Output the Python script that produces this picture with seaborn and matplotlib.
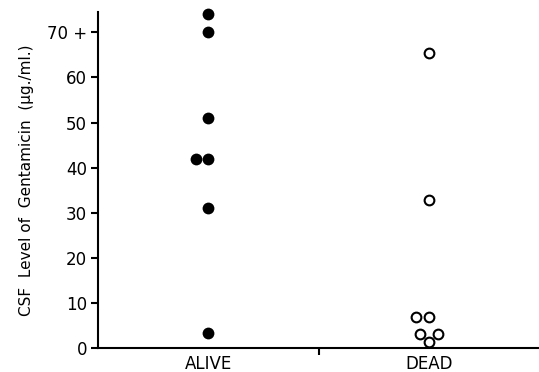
import pandas as pd
import seaborn as sns
import matplotlib.pyplot as plt

groups = ['ALIVE'] * 7 + ['DEAD'] * 7
levels = [74, 70, 51, 42, 42, 31, 3.3,
          65.4, 32.8, 6.9, 6.9, 3.1, 3.1, 1.3]
order = ['ALIVE', 'DEAD']
yticks = [0, 10, 20, 30, 40, 50, 60, 70]
ytick_labels = ['0', '10', '20', '30', '40', '50', '60', '70 +']

data = pd.DataFrame({'group': groups, 'level': levels})

sns.set_style('ticks', {'text.color': 'black', 'xtick.color': 'black',
                        'ytick.color': 'black', 'axes.edgecolor': 'black',
                        'axes.labelcolor': 'black'})
plt.rcParams['font.family'] = ['DejaVu Sans']

fig = plt.figure(figsize=(5.39, 3.72), dpi=100)
ax = fig.add_axes([0.182, 0.0645, 0.818, 0.903])

sns.swarmplot(data=data[data['group'] == 'ALIVE'], x='group', y='level', order=order,
              color='black', size=8.5, ax=ax, clip_on=False)
sns.swarmplot(data=data[data['group'] == 'DEAD'], x='group', y='level', order=order,
              color='white', edgecolor='black', linewidth=1.5, size=7, ax=ax, clip_on=False)

ax.set_xlim(-0.5, 1.5)
ax.set_ylim(0, 74.5)
ax.set_yticks(yticks)
ax.set_yticklabels(ytick_labels, fontsize=12)
ax.set_xticks([0, 1])
ax.set_xticklabels(order, fontsize=12)
ax.set_xticks([0.5], minor=True)
ax.tick_params(axis='x', which='major', length=0, pad=5)
ax.tick_params(axis='x', which='minor', length=5, width=1.5, direction='out')
ax.tick_params(axis='y', length=5, width=1.5, direction='out', pad=3)
ax.set_xlabel('')
ax.set_ylabel('CSF  Level of  Gentamicin  (µg./ml.)', fontsize=11, labelpad=9)

for side in ['top', 'right']:
    ax.spines[side].set_visible(False)
for side in ['left', 'bottom']:
    ax.spines[side].set_linewidth(1.5)

fig.savefig('out.png', dpi=100)
